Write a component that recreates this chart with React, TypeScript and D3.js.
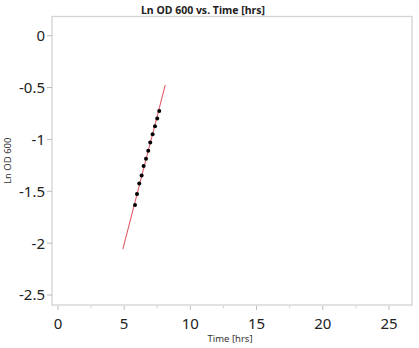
import * as d3 from 'd3'

const timeHrs = [5.82, 5.97, 6.14, 6.32, 6.47, 6.65, 6.82, 6.97, 7.15, 7.33, 7.5, 7.65]
const lnOD = [-1.633, -1.527, -1.424, -1.347, -1.257, -1.187, -1.11, -1.029, -0.949, -0.872, -0.798, -0.727]
const fitX = [4.9, 8.1]
const fitY = [-2.057, -0.477]
const xTicks = [0, 5, 10, 15, 20, 25]
const xMinor = [2.5, 7.5, 12.5, 17.5, 22.5]
const yTicks = [0, -0.5, -1, -1.5, -2, -2.5]

const W = 419
const H = 348
const frame = { left: 52, right: 412, top: 16.5, bottom: 305 }
const font = '"Noto Sans", "Open Sans", sans-serif'

const App = () => {
  const x = d3.scaleLinear().domain([-0.45, 26.74]).range([frame.left, frame.right])
  const y = d3.scaleLinear().domain([0.185, -2.596]).range([frame.top, frame.bottom])

  const line = d3.line<number>()
    .x((d, i) => x(fitX[i]))
    .y(d => y(d))

  return (
    <svg width={W} height={H} style={{ position: 'absolute', left: 0, top: 0, background: '#fff' }}>
      <text x={203} y={14} textAnchor="middle" fontFamily={font} fontWeight="bold" fontSize={10.5} fill="#222">
        Ln OD 600 vs. Time [hrs]
      </text>

      <rect
        x={frame.left} y={frame.top}
        width={frame.right - frame.left} height={frame.bottom - frame.top}
        fill="none" stroke="#d3d3d3" strokeWidth={1.3}
      />

      {yTicks.map(t => (
        <g key={t}>
          <line x1={frame.left - 5} x2={frame.left} y1={y(t)} y2={y(t)} stroke="#bbb" />
          <text x={frame.left - 7} y={y(t)} dy="0.36em" textAnchor="end" fontFamily={font} fontSize={15} fill="#222">
            {d3.format('')(t).replace('−', '-')}
          </text>
        </g>
      ))}

      {xTicks.map(t => (
        <g key={t}>
          <line x1={x(t)} x2={x(t)} y1={frame.bottom + 1} y2={frame.bottom + 5} stroke="#bbb" />
          <text x={x(t)} y={329} textAnchor="middle" fontFamily={font} fontSize={15} fill="#222">
            {t}
          </text>
        </g>
      ))}
      {xMinor.map(t => (
        <line key={t} x1={x(t)} x2={x(t)} y1={frame.bottom + 1} y2={frame.bottom + 3} stroke="#ccc" />
      ))}

      <text x={230} y={342} textAnchor="middle" fontFamily={font} fontSize={9.5} fill="#333">
        Time [hrs]
      </text>
      <text
        transform={`translate(11, ${(frame.top + frame.bottom) / 2}) rotate(-90)`}
        textAnchor="middle" fontFamily={font} fontSize={9.5} fill="#333"
      >
        Ln OD 600
      </text>

      <path d={line(fitY) ?? ''} fill="none" stroke="#e35d6a" strokeWidth={1.1} />

      {timeHrs.map((t, i) => (
        <circle key={i} cx={x(t)} cy={y(lnOD[i])} r={2} fill="#000" />
      ))}
    </svg>
  )
}

export default App
